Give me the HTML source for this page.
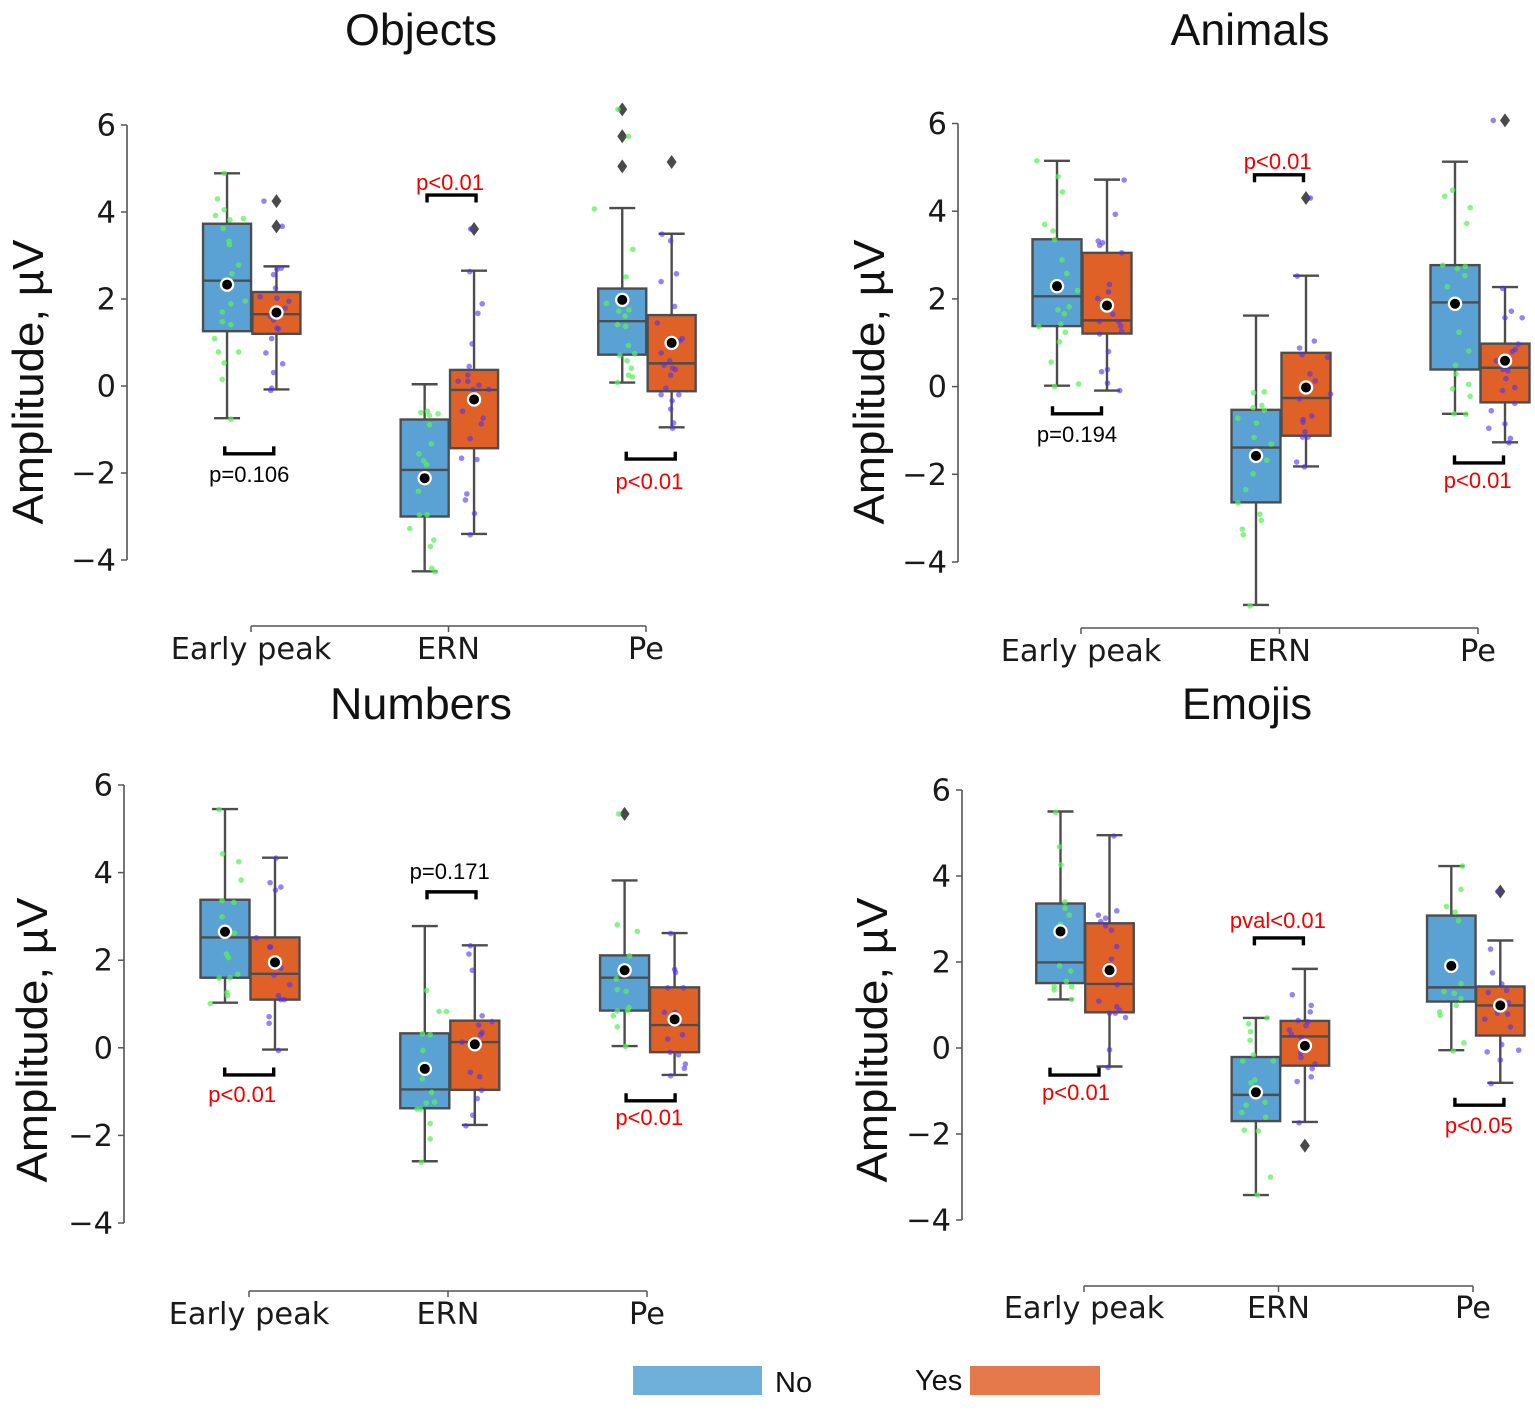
<!DOCTYPE html>
<html lang="en">
<head>
<meta charset="utf-8">
<title>Amplitude box plots by stimulus type</title>
<style>
html,body{margin:0;padding:0;background:#fff;}
svg{display:block;filter:blur(0.35px);}
.title,.ylab,.bracket-label,.legend-text{font-family:"Liberation Sans",sans-serif;}
.tick{font-family:"DejaVu Sans",sans-serif;font-size:30.4px;fill:#1a1a1a;}
.title{font-size:44.5px;fill:#111;text-anchor:middle;}
.ylab{font-size:44px;fill:#111;text-anchor:middle;}
.legend-text{font-size:29px;fill:#111;}
.bracket-label{font-size:22px;text-anchor:middle;}
</style>
</head>
<body>
<svg id="fig" xmlns="http://www.w3.org/2000/svg" width="1535" height="1411" viewBox="0 0 1535 1411">
  <rect x="0" y="0" width="1535" height="1411" fill="#fff"/>
  <text class="title" x="421" y="45" textLength="152" lengthAdjust="spacingAndGlyphs">Objects</text>
  <text class="title" x="1250" y="45" textLength="159" lengthAdjust="spacingAndGlyphs">Animals</text>
  <text class="title" x="421" y="719" textLength="182" lengthAdjust="spacingAndGlyphs">Numbers</text>
  <text class="title" x="1247" y="719" textLength="130" lengthAdjust="spacingAndGlyphs">Emojis</text>
  <text class="ylab" transform="translate(43,382) rotate(-90)" textLength="285" lengthAdjust="spacingAndGlyphs">Amplitude, µV</text>
  <text class="ylab" transform="translate(884,382) rotate(-90)" textLength="285" lengthAdjust="spacingAndGlyphs">Amplitude, µV</text>
  <text class="ylab" transform="translate(47,1040) rotate(-90)" textLength="285" lengthAdjust="spacingAndGlyphs">Amplitude, µV</text>
  <text class="ylab" transform="translate(887,1040) rotate(-90)" textLength="285" lengthAdjust="spacingAndGlyphs">Amplitude, µV</text>
  <g>
    <rect x="633" y="1366" width="129" height="29" fill="#6fb0da"/>
    <text class="legend-text" x="775" y="1392">No</text>
    <text class="legend-text" x="915" y="1390">Yes</text>
    <rect x="970" y="1366" width="130" height="29" fill="#e5794b"/>
  </g>
</svg>
<script>
// Shared categories and tick labels
const categories = ['Early peak', 'ERN', 'Pe'];
const yTicks = [6, 4, 2, 0, -2, -4];

// Box order in every array: Early No, Early Yes, ERN No, ERN Yes, Pe No, Pe Yes

// OBJECTS
const objectsHigh = [4.89, 2.75, 0.04, 2.65, 4.09, 3.5];
const objectsQ3 = [3.73, 2.16, -0.77, 0.37, 2.24, 1.63];
const objectsMedian = [2.42, 1.65, -1.93, -0.09, 1.49, 0.52];
const objectsQ1 = [1.26, 1.2, -3.0, -1.43, 0.72, -0.12];
const objectsLow = [-0.74, -0.08, -4.26, -3.4, 0.08, -0.95];
const objectsMean = [2.33, 1.69, -2.12, -0.31, 1.98, 0.99];
const objectsOutliers = [[], [4.25, 3.67], [], [3.61], [6.36, 5.74, 5.05], [5.15]];
const objectsStrip = [
  [4.89,4.30,4.05,3.92,3.82,3.85,3.62,3.33,3.25,2.78,2.58,1.95,1.89,1.70,1.48,1.41,1.09,0.78,0.78,0.53,0.15,-0.76],
  [4.25,3.67,2.71,2.68,2.56,2.25,2.05,2.02,1.95,1.79,1.60,1.52,1.33,1.31,1.09,0.76,0.51,0.31,-0.05,-0.1],
  [-0.61,-0.58,-0.68,-0.64,-0.89,-1.33,-1.56,-1.72,-1.81,-2.42,-2.96,-2.96,-3.28,-3.54,-3.69,-4.19,-4.27],
  [3.61,2.63,1.89,1.67,0.97,0.45,0.25,0.11,0.11,0.02,-0.08,-0.08,-0.58,-0.74,-0.87,-1.21,-1.66,-1.69,-2.48,-2.62,-2.93,-3.42],
  [6.36,5.74,4.07,3.14,2.51,1.9,1.72,1.75,1.61,1.41,1.37,0.93,0.7,0.74,0.58,0.41,0.25,0.21,0.08],
  [3.49,3.34,2.58,2.4,1.83,1.45,1.09,1.04,0.76,0.58,0.48,0.41,0.38,0.25,-0.05,-0.2,-0.2,-0.34,-0.53,-0.85,-0.97]
];
const objectsJitter = [
  [-.06,-.2,-.06,-.24,.06,.34,-.08,.04,.05,.24,.1,.38,.08,-.1,-.1,.08,-.26,-.18,.24,-.06,-.1,.08],
  [-.26,.12,.1,.01,-.06,-.02,-.34,.01,.26,.18,-.12,-.06,.01,.04,-.1,-.22,.13,-.06,-.1,-.12],
  [-.08,.06,.1,.28,.1,.14,-.12,-.02,.04,-.13,-.11,.05,-.31,.19,.12,.15,.22],
  [-.07,-.09,.17,.08,-.04,-.1,-.13,-.33,-.13,.1,.31,-.02,-.24,.19,.15,-.08,-.26,.06,-.15,-.18,.01,-.08],
  [-.09,.13,-.58,.22,.08,-.33,-.07,.14,.06,-.1,.07,.13,-.05,.26,.1,.19,.13,.21,-.1],
  [-.2,-.02,.1,-.22,.06,-.3,.22,.17,-.22,-.04,-.16,.02,.08,-.02,-.12,-.22,.15,.01,-.02,.04,.02]
];
const objectsPValues = ['p=0.106', 'p<0.01', 'p<0.01'];
const objectsSignificant = [false, true, true];
const objectsBracketLevels = [-1.56, 4.39, -1.68];

// ANIMALS
const animalsHigh = [5.15, 4.72, 1.62, 2.53, 5.13, 2.27];
const animalsQ3 = [3.36, 3.05, -0.53, 0.77, 2.77, 0.98];
const animalsMedian = [2.06, 1.51, -1.39, -0.26, 1.92, 0.43];
const animalsQ1 = [1.38, 1.21, -2.64, -1.12, 0.39, -0.36];
const animalsLow = [0.02, -0.09, -4.98, -1.82, -0.62, -1.27];
const animalsMean = [2.29, 1.85, -1.58, -0.02, 1.89, 0.59];
const animalsOutliers = [[], [], [], [4.3], [], [6.07]];
const animalsStrip = [
  [5.15,4.79,4.44,3.7,3.55,3.35,2.89,2.58,2.19,1.75,1.82,1.66,1.43,1.37,1.24,1.02,0.56,0.06,0.0],
  [4.71,3.93,3.32,3.28,3.22,3.05,2.33,2.16,2.01,1.65,1.49,1.48,1.38,1.26,1.2,0.8,0.34,0.39,0.08,-0.09],
  [-0.14,-0.12,-0.43,-0.48,-0.54,-0.72,-0.83,-1.16,-1.31,-1.68,-1.99,-2.35,-2.65,-2.91,-3.05,-3.25,-3.38,-5.0],
  [4.3,2.52,1.04,0.88,0.73,0.67,0.29,0.13,-0.17,-0.28,-0.67,-0.75,-0.81,-1.03,-1.15,-1.15,-1.72,-1.83],
  [4.48,4.34,4.08,3.72,2.77,2.69,2.74,2.53,2.28,1.24,0.81,0.49,0.29,0.05,-0.05,-0.22,-0.62,-0.63],
  [6.07,2.24,1.72,1.57,1.57,0.97,0.85,0.8,0.59,0.39,0.36,0.18,-0.02,-0.09,-0.38,-0.55,-0.85,-0.95,-1.18,-1.28]
];
const animalsJitter = [
  [-.41,.02,.11,-.25,-.08,-.05,.1,.2,.42,.02,.25,.15,.08,-.37,.17,.05,-.12,.44,-.05],
  [.35,.17,-.18,-.09,-.15,.3,.05,.03,-.19,.12,-.15,.24,.28,.3,-.15,.03,-.11,.01,.01,.26],
  [-.05,.17,.12,-.06,.17,-.37,.01,-.04,.31,.22,-.06,-.21,-.37,.08,.11,-.28,-.26,-.12],
  [.09,-.18,.17,-.13,-.08,.44,.08,.19,.5,-.13,.12,-.06,-.06,-.02,-.07,.04,-.19,-.03],
  [-.05,-.21,.31,.24,-.25,.05,.21,.2,-.16,.08,.28,.01,.02,.28,-.05,.31,-.02,.22],
  [-.24,-.05,.13,.35,0,.27,.21,.15,-.18,-.04,.06,.02,.2,-.05,.2,-.28,0,-.33,.11,.08]
];
const animalsPValues = ['p=0.194', 'p<0.01', 'p<0.01'];
const animalsSignificant = [false, true, true];
const animalsBracketLevels = [-0.62, 4.83, -1.74];

// NUMBERS
const numbersHigh = [5.45, 4.34, 2.78, 2.34, 3.82, 2.62];
const numbersQ3 = [3.38, 2.52, 0.33, 0.62, 2.11, 1.38];
const numbersMedian = [2.52, 1.69, -0.95, 0.13, 1.6, 0.52];
const numbersQ1 = [1.6, 1.1, -1.38, -0.96, 0.85, -0.1];
const numbersLow = [1.03, -0.04, -2.59, -1.76, 0.04, -0.62];
const numbersMean = [2.65, 1.95, -0.48, 0.08, 1.77, 0.65];
const numbersOutliers = [[], [], [], [], [5.34], []];
const numbersStrip = [
  [5.44,4.43,4.25,3.83,3.36,3.32,2.99,2.62,2.14,2.06,1.68,1.59,1.6,1.26,1.19,1.01],
  [4.33,3.77,3.67,3.6,2.51,2.3,2.3,1.82,1.66,1.44,1.19,1.1,1.1,0.71,0.56,-0.06],
  [1.31,0.83,0.83,0.32,0.3,-0.06,-0.71,-1.02,-1.26,-1.24,-1.4,-1.4,-1.73,-2.08,-2.61],
  [2.33,2.14,1.77,0.73,0.6,0.52,0.35,0.3,0.13,-0.56,-0.66,-0.97,-1.16,-1.54,-1.78],
  [5.34,2.81,2.66,2.1,1.57,1.33,1.29,0.92,0.84,0.85,0.73,0.48,0.03],
  [2.61,1.79,1.72,1.37,1.37,0.81,0.81,0.2,0.3,-0.1,-0.16,-0.37,-0.47,-0.64]
];
const numbersJitter = [
  [-.12,-.05,.28,.33,-.06,.18,-.06,.19,.03,.07,.26,-.12,.1,.04,.05,-.3],
  [.02,-.1,.12,.01,-.38,-.11,-.09,.12,-.02,.3,.07,.12,.19,-.12,-.12,.07],
  [.04,.29,.44,-.05,.11,-.04,-.05,.14,.03,.2,-.16,-.09,.11,.11,-.07],
  [-.09,-.12,-.05,.15,.35,.08,.15,.12,-.26,-.09,.1,.14,.05,-.04,-.18],
  [-.12,-.15,.26,.1,-.17,-.15,.03,.09,-.15,.06,-.23,-.15,.02],
  [-.08,0,.02,-.14,.18,-.21,.01,-.14,.16,-.09,.08,.22,.2,-.08]
];
const numbersPValues = ['p<0.01', 'p=0.171', 'p<0.01'];
const numbersSignificant = [true, false, true];
const numbersBracketLevels = [-0.62, 3.56, -1.21];

// EMOJIS
const emojisHigh = [5.5, 4.95, 0.7, 1.84, 4.23, 2.5];
const emojisQ3 = [3.36, 2.9, -0.21, 0.63, 3.08, 1.43];
const emojisMedian = [1.99, 1.49, -1.09, 0.27, 1.41, 0.99];
const emojisQ1 = [1.51, 0.83, -1.7, -0.41, 1.08, 0.29];
const emojisLow = [1.13, -0.43, -3.42, -1.72, -0.05, -0.81];
const emojisMean = [2.71, 1.81, -1.03, 0.05, 1.91, 0.99];
const emojisOutliers = [[], [], [], [-2.27], [], [3.64]];
const emojisStrip = [
  [5.48,4.68,4.26,3.4,3.25,3.09,2.88,1.91,1.79,1.55,1.43,1.35,1.43,1.13],
  [4.93,3.19,3.09,3.02,2.94,2.84,2.74,2.36,2.07,1.47,1.09,0.96,0.88,0.81,0.81,0.71,-0.04,-0.45],
  [0.7,0.56,0.38,0.18,-0.16,-0.3,-0.3,-0.74,-0.81,-1.33,-1.26,-1.5,-1.61,-1.91,-1.93,-3.0,-3.42],
  [1.24,0.99,0.84,0.64,0.61,0.52,0.42,0.32,0.25,-0.12,-0.22,-0.37,-0.48,-0.78,-0.67,-1.74],
  [4.23,3.69,3.29,3.16,2.96,1.5,1.31,1.27,1.15,0.99,0.84,0.76,0.12,-0.07],
  [3.64,2.3,1.75,1.49,1.29,1.34,1.05,0.81,0.79,0.67,0.49,0.08,-0.09,-0.05,-0.28,-0.83]
];
const emojisJitter = [
  [-.1,-.02,.01,.09,.09,.18,0,-.02,.21,.12,-.13,-.13,.23,.23],
  [.09,.15,-.23,-.08,-.18,-.08,.04,.15,.04,.16,-.22,.15,.21,0,.12,.33,0,-.03],
  [.23,-.15,-.11,-.12,-.05,-.27,.36,-.02,-.1,-.2,.19,-.29,.2,-.24,.05,.3,.03],
  [-.26,.13,.11,-.14,.06,.02,-.32,-.28,-.08,-.09,-.08,.21,.15,-.16,.13,-.12],
  [.23,.2,-.1,.08,.15,.2,-.15,.06,.2,.1,-.24,-.23,.26,.04],
  [-.05,-.2,-.16,.03,-.25,.13,.17,-.06,.15,-.32,.21,.03,-.27,.38,0,-.19]
];
const emojisPValues = ['p<0.01', 'pval<0.01', 'p<0.05'];
const emojisSignificant = [true, true, true];
const emojisBracketLevels = [-0.63, 2.56, -1.33];

// Panel geometry (layout only)
const panels = [
  {key:'objects', high:objectsHigh, q3:objectsQ3, med:objectsMedian, q1:objectsQ1, low:objectsLow, mean:objectsMean, out:objectsOutliers, strip:objectsStrip, jit:objectsJitter, pv:objectsPValues, sig:objectsSignificant, lev:objectsBracketLevels,
   axisX:127, y6:125, yM4:560, cat0:251.75, catStep:197.6, dodge:24.7, boxW:48, spineY:626, x0:251, x1:646, tickY:659, brDx:[-2.5,2.2,3.8], lbDx:[0,-1.5,-1.3], lbDy:[28,-5,30]},
  {key:'animals', high:animalsHigh, q3:animalsQ3, med:animalsMedian, q1:animalsQ1, low:animalsLow, mean:animalsMean, out:animalsOutliers, strip:animalsStrip, jit:animalsJitter, pv:animalsPValues, sig:animalsSignificant, lev:animalsBracketLevels,
   axisX:958, y6:123.5, yM4:562, cat0:1082, catStep:199, dodge:25, boxW:49, spineY:628, x0:1081, x1:1478, tickY:661, brDx:[-5,-2,-1], lbDx:[0,-1.3,-1.3], lbDy:[28,-6,25]},
  {key:'numbers', high:numbersHigh, q3:numbersQ3, med:numbersMedian, q1:numbersQ1, low:numbersLow, mean:numbersMean, out:numbersOutliers, strip:numbersStrip, jit:numbersJitter, pv:numbersPValues, sig:numbersSignificant, lev:numbersBracketLevels,
   axisX:124, y6:785, yM4:1223, cat0:250, catStep:199.8, dodge:25, boxW:49, spineY:1291, x0:249, x1:647, tickY:1324, brDx:[-0.8,1.7,1], lbDx:[-7,-1.8,-1.3], lbDy:[27,-13,24]},
  {key:'emojis', high:emojisHigh, q3:emojisQ3, med:emojisMedian, q1:emojisQ1, low:emojisLow, mean:emojisMean, out:emojisOutliers, strip:emojisStrip, jit:emojisJitter, pv:emojisPValues, sig:emojisSignificant, lev:emojisBracketLevels,
   axisX:962, y6:790, yM4:1220, cat0:1085, catStep:195.4, dodge:24.5, boxW:48.5, spineY:1286, x0:1084, x1:1473, tickY:1318, brDx:[-10.5,-1.5,3.6], lbDx:[1.5,-1,-0.6], lbDy:[25,-10,28]}
];

const SVGNS = 'http://www.w3.org/2000/svg';
const fig = document.getElementById('fig');
const EDGE = '#4d4d4d';
const FILLS = ['#5aa2d4', '#e06128'];
const DOTS = ['rgba(90,240,90,0.72)', 'rgba(80,50,240,0.6)'];

function mk(tag, attrs, parent) {
  const node = document.createElementNS(SVGNS, tag);
  for (const k in attrs) node.setAttribute(k, attrs[k]);
  parent.appendChild(node);
  return node;
}

panels.forEach(function (p) {
  const yScale = function (v) { return p.y6 + (6 - v) * (p.yM4 - p.y6) / 10; };
  const catX = function (c) { return p.cat0 + c * p.catStep; };
  const boxX = function (b) { return catX(Math.floor(b / 2)) + (b % 2 === 0 ? -p.dodge : p.dodge); };

  const g = mk('g', {}, fig);
  
  

  // y axis
  const spine = mk('line', {x1:p.axisX, x2:p.axisX, y1:yScale(yTicks[0]), y2:yScale(yTicks[yTicks.length - 1]), stroke:'#666', 'stroke-width':1.8}, g);
  
  
  yTicks.forEach(function (t) {
    const mark = mk('line', {x1:p.axisX - 6, x2:p.axisX, y1:yScale(t), y2:yScale(t), stroke:'#555', 'stroke-width':1.5}, g);
    
    
    const label = mk('text', {class:'tick', x:p.axisX - 11, y:yScale(t) + 10.5, 'text-anchor':'end'}, g);
    label.textContent = String(t).replace('-', '\u2212');
    
    
  });

  // x axis
  const xSpine = mk('line', {x1:p.x0, x2:p.x1, y1:p.spineY, y2:p.spineY, stroke:'#555', 'stroke-width':1.5}, g);
  
  
  categories.forEach(function (name, i) {
    const tx = p.x0 + i * (p.x1 - p.x0) / (categories.length - 1);
    const mark = mk('line', {x1:tx, x2:tx, y1:p.spineY, y2:p.spineY + 6, stroke:'#555', 'stroke-width':1.5}, g);
    
    
    const label = mk('text', {class:'tick', x:tx, y:p.tickY, 'text-anchor':'middle'}, g);
    label.textContent = name;
    
    
  });

  // boxes
  p.q3.forEach(function (_, b) {
    const cx = boxX(b);
    const hue = b % 2;
    const bg = mk('g', {}, g);
    
    

    const whiskerUp = mk('line', {x1:cx, x2:cx, y1:yScale(p.q3[b]), y2:yScale(p.high[b]), stroke:EDGE, 'stroke-width':2.4}, bg);
    
    
    const whiskerDown = mk('line', {x1:cx, x2:cx, y1:yScale(p.q1[b]), y2:yScale(p.low[b]), stroke:EDGE, 'stroke-width':2.4}, bg);
    
    
    const capUp = mk('line', {x1:cx - 13, x2:cx + 13, y1:yScale(p.high[b]), y2:yScale(p.high[b]), stroke:EDGE, 'stroke-width':2.4}, bg);
    
    
    const capDown = mk('line', {x1:cx - 13, x2:cx + 13, y1:yScale(p.low[b]), y2:yScale(p.low[b]), stroke:EDGE, 'stroke-width':2.4}, bg);
    
    
    const rect = mk('rect', {x:cx - p.boxW / 2, y:yScale(p.q3[b]), width:p.boxW, height:yScale(p.q1[b]) - yScale(p.q3[b]), fill:FILLS[hue], stroke:EDGE, 'stroke-width':2.4}, bg);
    
    
    const median = mk('line', {x1:cx - p.boxW / 2, x2:cx + p.boxW / 2, y1:yScale(p.med[b]), y2:yScale(p.med[b]), stroke:EDGE, 'stroke-width':2.4}, bg);
    
    

    p.out[b].forEach(function (v) {
      const dy = yScale(v);
      const diamond = mk('polygon', {points:[cx, dy - 7, cx + 5, dy, cx, dy + 7, cx - 5, dy].join(' '), fill:'#4a4a4a'}, bg);
      
      
    });

    p.strip[b].forEach(function (v, j) {
      const dot = mk('circle', {cx:cx + p.jit[b][j] * p.boxW, cy:yScale(v), r:2.8, fill:DOTS[hue]}, bg);
      
      
    });

    const meanRing = mk('circle', {cx:cx, cy:yScale(p.mean[b]), r:7.2, fill:'#fff'}, bg);
    
    
    const meanDot = mk('circle', {cx:cx, cy:yScale(p.mean[b]), r:5, fill:'#000'}, bg);
    
    
  });

  // significance brackets
  p.pv.forEach(function (txt, c) {
    const mid = catX(c) + p.brDx[c];
    const barY = yScale(p.lev[c]);
    const legs = p.lbDy[c] > 0 ? -7.5 : 7.5;
    const br = mk('path', {d:'M' + (mid - 24.5) + ' ' + (barY + legs) + 'V' + barY + 'H' + (mid + 24.5) + 'V' + (barY + legs), fill:'none', stroke:'#000', 'stroke-width':3.4}, g);
    
    
    const label = mk('text', {class:'bracket-label', x:mid + p.lbDx[c], y:barY + p.lbDy[c], fill:p.sig[c] ? '#f00000' : '#000'}, g);
    label.textContent = txt;
    
    
  });
});
</script>
</body>
</html>
